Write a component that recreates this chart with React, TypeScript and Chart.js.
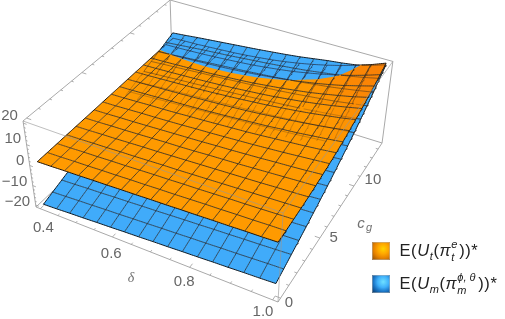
import React, { useEffect, useRef } from "react";
import { Chart, registerables } from "chart.js";

Chart.register(...registerables);

const deltaTicks = [0.4, 0.6, 0.8, 1.0];
const deltaMinor = [0.4, 0.45, 0.5, 0.55, 0.6, 0.65, 0.7, 0.75, 0.8, 0.85, 0.9, 0.95, 1.0];
const cgTicks = [0, 5, 10];
const cgMinor = [0, 1, 2, 3, 4, 5, 6, 7, 8, 9, 10, 11, 12, 13, 14];
const zTicks = [-20, -10, 0, 10, 20];
const zMinor = [-20, -18, -16, -14, -12, -10, -8, -6, -4, -2, 0, 2, 4, 6, 8, 10, 12, 14, 16, 18, 20];
const CG_MAX = 14.4;
const Z_MIN = -21;
const Z_MAX = 21;

// rows: c_g from 0 to max; columns: delta from 0.4 to 1.0
const blueZ = [
  [-20.3, -20.0, -19.6, -19.3, -18.9, -18.6, -18.2, -17.9, -17.5, -17.2, -16.8, -16.5, -16.1, -15.8, -15.4, -15.1, -14.7],
  [-18.7, -18.4, -18.0, -17.7, -17.3, -17.0, -16.6, -16.3, -15.9, -15.6, -15.2, -14.9, -14.5, -14.2, -13.8, -13.4, -13.1],
  [-17.1, -16.8, -16.4, -16.1, -15.7, -15.4, -15.0, -14.7, -14.3, -13.9, -13.6, -13.2, -12.9, -12.5, -12.2, -11.8, -11.4],
  [-15.5, -15.2, -14.8, -14.4, -14.1, -13.7, -13.4, -13.0, -12.7, -12.3, -12.0, -11.6, -11.2, -10.9, -10.5, -10.1, -9.8],
  [-13.9, -13.5, -13.2, -12.8, -12.5, -12.1, -11.8, -11.4, -11.1, -10.7, -10.4, -10.0, -9.6, -9.2, -8.9, -8.5, -8.1],
  [-12.3, -11.9, -11.6, -11.2, -10.9, -10.5, -10.2, -9.8, -9.5, -9.1, -8.7, -8.3, -7.9, -7.5, -7.1, -6.7, -6.3],
  [-10.7, -10.3, -10.0, -9.6, -9.3, -8.9, -8.5, -8.2, -7.8, -7.4, -7.0, -6.6, -6.2, -5.8, -5.4, -5.0, -4.5],
  [-9.0, -8.7, -8.3, -8.0, -7.6, -7.2, -6.9, -6.5, -6.1, -5.7, -5.3, -4.9, -4.5, -4.0, -3.6, -3.1, -2.6],
  [-7.4, -7.1, -6.7, -6.3, -5.9, -5.6, -5.2, -4.8, -4.4, -4.0, -3.6, -3.1, -2.7, -2.2, -1.7, -1.2, -0.6],
  [-5.8, -5.4, -5.1, -4.7, -4.3, -3.9, -3.5, -3.1, -2.7, -2.3, -1.8, -1.4, -0.9, -0.3, 0.2, 0.8, 1.5],
  [-4.2, -3.8, -3.4, -3.0, -2.6, -2.2, -1.8, -1.4, -0.9, -0.5, 0.0, 0.5, 1.0, 1.6, 2.3, 2.9, 3.7],
  [-2.6, -2.2, -1.7, -1.3, -0.9, -0.5, -0.1, 0.4, 0.8, 1.3, 1.8, 2.4, 3.0, 3.6, 4.4, 5.2, 6.0],
  [-1.0, -0.5, -0.1, 0.4, 0.8, 1.3, 1.7, 2.2, 2.7, 3.2, 3.8, 4.4, 5.0, 5.8, 6.6, 7.5, 8.5],
  [0.7, 1.2, 1.6, 2.1, 2.6, 3.0, 3.5, 4.0, 4.5, 5.1, 5.7, 6.4, 7.2, 8.0, 8.9, 10.0, 11.1],
  [2.3, 2.8, 3.4, 3.9, 4.4, 4.9, 5.4, 5.9, 6.5, 7.1, 7.8, 8.5, 9.4, 10.3, 11.4, 12.6, 13.9],
  [3.9, 4.5, 5.1, 5.7, 6.2, 6.7, 7.3, 7.9, 8.5, 9.2, 9.9, 10.7, 11.7, 12.7, 13.9, 15.3, 16.9],
  [5.6, 6.2, 6.9, 7.5, 8.1, 8.7, 9.3, 9.9, 10.6, 11.3, 12.1, 13.1, 14.1, 14.9, 15.9, 17.6, 19.9],
];

const orangeZ = [
  [1.2, 1.4, 1.7, 1.9, 2.2, 2.4, 2.7, 2.9, 3.2, 3.4, 3.7, 3.9, 4.2, 4.4, 4.7, 4.9, 5.2],
  [1.3, 1.5, 1.8, 2.0, 2.3, 2.5, 2.8, 3.0, 3.3, 3.5, 3.8, 4.1, 4.3, 4.6, 4.8, 5.1, 5.3],
  [1.4, 1.6, 1.9, 2.1, 2.4, 2.6, 2.9, 3.2, 3.4, 3.7, 3.9, 4.2, 4.5, 4.7, 5.0, 5.3, 5.6],
  [1.5, 1.7, 2.0, 2.2, 2.5, 2.7, 3.0, 3.3, 3.5, 3.8, 4.1, 4.4, 4.7, 5.0, 5.3, 5.6, 5.9],
  [1.6, 1.8, 2.1, 2.3, 2.6, 2.9, 3.1, 3.4, 3.7, 4.0, 4.3, 4.6, 4.9, 5.2, 5.6, 5.9, 6.3],
  [1.7, 1.9, 2.2, 2.4, 2.7, 3.0, 3.3, 3.5, 3.8, 4.2, 4.5, 4.8, 5.2, 5.6, 6.0, 6.4, 6.8],
  [1.8, 2.0, 2.3, 2.5, 2.8, 3.1, 3.4, 3.7, 4.0, 4.4, 4.7, 5.1, 5.5, 6.0, 6.4, 6.9, 7.5],
  [1.9, 2.1, 2.4, 2.7, 2.9, 3.2, 3.5, 3.9, 4.2, 4.6, 5.0, 5.4, 5.9, 6.4, 7.0, 7.6, 8.2],
  [2.0, 2.2, 2.5, 2.8, 3.0, 3.3, 3.7, 4.0, 4.4, 4.8, 5.2, 5.7, 6.3, 6.9, 7.5, 8.2, 9.0],
  [2.1, 2.3, 2.6, 2.9, 3.2, 3.5, 3.8, 4.2, 4.6, 5.1, 5.6, 6.1, 6.8, 7.4, 8.2, 9.0, 9.9],
  [2.2, 2.4, 2.7, 3.0, 3.3, 3.6, 4.0, 4.4, 4.8, 5.3, 5.9, 6.6, 7.3, 8.1, 9.0, 10.0, 11.1],
  [2.3, 2.5, 2.8, 3.1, 3.4, 3.7, 4.1, 4.6, 5.1, 5.7, 6.3, 7.1, 7.9, 8.8, 9.9, 11.0, 12.3],
  [2.4, 2.6, 2.9, 3.2, 3.5, 3.9, 4.3, 4.8, 5.4, 6.0, 6.7, 7.6, 8.5, 9.6, 10.8, 12.2, 13.7],
  [2.5, 2.7, 3.0, 3.3, 3.6, 4.0, 4.5, 5.0, 5.6, 6.4, 7.2, 8.2, 9.2, 10.5, 11.9, 13.4, 15.2],
  [2.6, 2.8, 3.1, 3.4, 3.8, 4.2, 4.7, 5.3, 6.0, 6.8, 7.7, 8.8, 10.0, 11.4, 13.0, 14.9, 16.9],
  [2.7, 2.9, 3.2, 3.5, 3.9, 4.4, 4.9, 5.5, 6.3, 7.2, 8.2, 9.5, 10.9, 12.5, 14.3, 16.4, 18.7],
  [2.8, 3.1, 3.3, 3.7, 4.1, 4.5, 5.1, 5.8, 6.6, 7.6, 8.8, 10.2, 11.8, 13.6, 15.7, 18.0, 20.7],
];

type P = { x: number; y: number };
const GAP: P = { x: NaN, y: NaN };
const N = blueZ.length - 1;

// camera: homogeneous projection of the unit box onto the picture
const A = [36, 207, 1];
const B = [213.1, 63.6, -0.104];
const C = [172.5, -112.8, 0.2075];
const D = [-14.55, -94.15, -0.0674];

function boxPoint(u: number, v: number, t: number): P {
  const h = [0, 1, 2].map((k) => A[k] + u * B[k] + v * C[k] + t * D[k]);
  return { x: h[0] / h[2], y: h[1] / h[2] };
}
const tOfZ = (z: number) => (z - Z_MIN) / (Z_MAX - Z_MIN);
const gridU = (i: number) => 0.02 + (0.96 * i) / N;
const uOfDelta = (d: number) => 0.02 + (0.96 * (d - 0.4)) / 0.6;
const vOfCg = (c: number) => 0.02 + (0.96 * c) / CG_MAX;

const lerp = (a: number, b: number, f: number) => a + (b - a) * f;

function surfacePoint(zs: number[][], fi: number, fj: number): P {
  const i = Math.min(Math.floor(fi), N - 1);
  const j = Math.min(Math.floor(fj), N - 1);
  const a = fi - i;
  const b = fj - j;
  const z = lerp(lerp(zs[j][i], zs[j][i + 1], a), lerp(zs[j + 1][i], zs[j + 1][i + 1], a), b);
  return boxPoint(gridU(fi), gridU(fj), tOfZ(z));
}
const diff = (i: number, j: number) => orangeZ[j][i] - blueZ[j][i];

function cellPolygon(zs: number[][], i: number, j: number, keep: (d: number) => boolean): P[] {
  const corners = [[i, j], [i + 1, j], [i + 1, j + 1], [i, j + 1]];
  const out: P[] = [];
  for (let k = 0; k < 4; k++) {
    const [a, b] = corners[k];
    const [c, e] = corners[(k + 1) % 4];
    const d0 = diff(a, b);
    const d1 = diff(c, e);
    if (keep(d0)) out.push(surfacePoint(zs, a, b));
    if (keep(d0) !== keep(d1)) {
      const f = d0 / (d0 - d1);
      out.push(surfacePoint(zs, lerp(a, c, f), lerp(b, e, f)));
    }
  }
  if (out.length) out.push(out[0]);
  return out;
}

// polyline of a mesh line, kept only where lo < (orange - blue) < hi
function meshLine(zs: number[][], horizontal: boolean, idx: number, lo: number, hi: number): P[] {
  const pts: P[] = [];
  const steps = 8;
  let open = false;
  for (let s = 0; s <= N * steps; s++) {
    const f = s / steps;
    const fi = horizontal ? f : idx;
    const fj = horizontal ? idx : f;
    const i = Math.min(Math.floor(fi), N - 1);
    const j = Math.min(Math.floor(fj), N - 1);
    const a = fi - i;
    const b = fj - j;
    const d = lerp(lerp(diff(i, j), diff(i + 1, j), a), lerp(diff(i, j + 1), diff(i + 1, j + 1), a), b);
    if (d > lo && d < hi) {
      pts.push(surfacePoint(zs, fi, fj));
      open = true;
    } else if (open) {
      pts.push(GAP);
      open = false;
    }
  }
  return pts;
}

function buildDatasets() {
  const ds: any[] = [];
  const stroke = (data: P[], color: string, width: number) =>
    ds.push({ data, borderColor: color, borderWidth: width, pointRadius: 0, fill: false, tension: 0 });
  const poly = (data: P[], color: string) =>
    ds.push({ data, borderColor: "transparent", backgroundColor: color, borderWidth: 0, pointRadius: 0, fill: "shape", tension: 0 });
  const edge = (a: number[], b: number[]) => [boxPoint(a[0], a[1], a[2]), boxPoint(b[0], b[1], b[2])];

  const boxColor = "#a9a9a9";
  // rear box edges
  stroke(edge([0, 1, 0], [1, 1, 0]), boxColor, 1);
  stroke(edge([0, 0, 0], [0, 1, 0]), boxColor, 1);
  stroke(edge([1, 0, 0], [1, 1, 0]), boxColor, 1);
  stroke(edge([0, 0, 0], [1, 0, 0]), boxColor, 1);
  stroke(edge([0, 1, 0], [0, 1, 1]), boxColor, 1);
  stroke(edge([1, 1, 0], [1, 1, 1]), boxColor, 1);
  stroke(edge([0, 0, 0], [0, 0, 1]), boxColor, 1);
  stroke(edge([0, 0, 1], [0, 1, 1]), boxColor, 1);
  stroke(edge([0, 1, 1], [1, 1, 1]), boxColor, 1);

  // ticks
  const ticks: P[] = [];
  const addTick = (p: number[], q: number[]) => {
    ticks.push(boxPoint(p[0], p[1], p[2]), boxPoint(q[0], q[1], q[2]), GAP);
  };
  zMinor.forEach((z) => {
    const l = z % 10 === 0 ? 0.014 : 0.007;
    addTick([0, 0, tOfZ(z)], [l, 0, tOfZ(z)]);
  });
  deltaMinor.forEach((d) => {
    const l = Math.round(d * 100) % 20 === 0 ? 0.02 : 0.01;
    addTick([uOfDelta(d), 0, 0], [uOfDelta(d), l, 0]);
  });
  cgMinor.forEach((c) => {
    const l = c % 5 === 0 ? 0.02 : 0.01;
    addTick([1, vOfCg(c), 0], [1 - l, vOfCg(c), 0]);
    addTick([0, vOfCg(c), 1], [l, vOfCg(c), 1]);
  });
  stroke(ticks, "#9a9a9a", 0.8);

  // blue surface
  for (let j = 0; j < N; j++) {
    for (let i = 0; i < N; i++) {
      poly(cellPolygon(blueZ, i, j, () => true), "#40abfa");
    }
  }
  const lineBlue = "rgba(28,42,56,0.88)";
  for (let k = 1; k < N; k++) {
    stroke(meshLine(blueZ, true, k, -1e9, 1e9), lineBlue, 0.9);
    stroke(meshLine(blueZ, false, k, -1e9, 1e9), lineBlue, 0.9);
  }
  for (const k of [0, N]) {
    stroke(meshLine(blueZ, true, k, -1e9, 1e9), "#0c1822", 1);
    stroke(meshLine(blueZ, false, k, -1e9, 1e9), "#0c1822", 1);
  }

  // orange surface where it lies above the blue one
  for (let j = 0; j < N; j++) {
    for (let i = 0; i < N; i++) {
      const poly2 = cellPolygon(orangeZ, i, j, (d) => d > 0);
      if (!poly2.length) continue;
      const du = (orangeZ[j][i + 1] - orangeZ[j][i] + orangeZ[j + 1][i + 1] - orangeZ[j + 1][i]) / 2;
      const dv = (orangeZ[j + 1][i] - orangeZ[j][i] + orangeZ[j + 1][i + 1] - orangeZ[j][i + 1]) / 2;
      const s = Math.min(1, Math.max(0, (du + dv - 1.6) / 2.4));
      poly(poly2, `rgb(${Math.round(255 - 6 * s)},${Math.round(154 - 24 * s)},${Math.round(s * 6)})`);
    }
  }
  const lineOrange = "rgba(58,42,24,0.9)";
  for (let k = 0; k <= N; k++) {
    const w = k === 0 || k === N ? 1 : 0.9;
    const c = k === 0 || k === N ? "#201408" : lineOrange;
    stroke(meshLine(orangeZ, true, k, 0, 1e9), c, w);
    stroke(meshLine(orangeZ, false, k, 0, 1e9), c, w);
    // mesh seen through the upper sheet
    stroke(meshLine(orangeZ, true, k, -1e9, 0), "rgba(30,30,50,0.7)", 0.9);
    stroke(meshLine(orangeZ, false, k, -1e9, 0), "rgba(30,30,50,0.7)", 0.9);
    stroke(meshLine(blueZ, true, k, 0, 3.5), "rgba(70,50,30,0.62)", 0.9);
    stroke(meshLine(blueZ, false, k, 0, 3.5), "rgba(70,50,30,0.62)", 0.9);
    stroke(meshLine(blueZ, true, k, 3.5, 7), "rgba(70,50,30,0.32)", 0.9);
    stroke(meshLine(blueZ, false, k, 3.5, 7), "rgba(70,50,30,0.32)", 0.9);
  }

  // front box edges, seen over the surfaces
  const front = "rgba(150,150,150,0.62)";
  stroke(edge([0, 0, 1], [1, 0, 1]), front, 1);
  stroke(edge([1, 0, 1], [1, 1, 1]), front, 1);
  stroke(edge([1, 0, 0], [1, 0, 1]), front, 1);
  // Chart.js paints the first dataset last
  return ds.reverse();
}

const labelPlugin = {
  id: "boxLabels",
  afterDraw(chart: any) {
    const { ctx, scales } = chart;
    const put = (p: P, text: string, font: string, align: CanvasTextAlign, color = "#666666") => {
      ctx.font = font;
      ctx.fillStyle = color;
      ctx.textAlign = align;
      ctx.textBaseline = "middle";
      ctx.fillText(text, scales.x.getPixelForValue(p.x), scales.y.getPixelForValue(p.y));
    };
    const font = "15px 'Liberation Sans'";
    zTicks.forEach((z) => {
      const p = boxPoint(0, 0, tOfZ(z));
      put({ x: p.x - 5.5, y: p.y - 5 - z * 0.1 }, String(z).replace("-", "\u2212"), font, "right");
    });
    deltaTicks.forEach((d) => {
      const p = boxPoint(uOfDelta(d), 0, 0);
      const f = (d - 0.4) / 0.6;
      put({ x: p.x + 3 - 12.6 * f, y: p.y + 19 - 7 * f }, d.toFixed(1), font, "center");
    });
    cgTicks.forEach((c) => {
      const p = boxPoint(1, vOfCg(c), 0);
      put({ x: p.x + 8.4 + 1.06 * c, y: p.y + 5 - 1.1 * c }, String(c), font, "center");
    });
    put({ x: 131, y: 278 }, "\u03b4", "italic 14px 'Liberation Serif'", "center", "#707070");
    put({ x: 361, y: 224 }, "c", "italic 15px 'Liberation Sans'", "center", "#707070");
    put({ x: 369, y: 228 }, "g", "italic 11px 'Liberation Sans'", "center", "#707070");
  },
};

const swatch = (top: number, gradient: string): React.CSSProperties => ({
  position: "absolute",
  left: 372,
  top,
  width: 18,
  height: 18,
  background: gradient,
  boxShadow: "inset 0 0 0 1px rgba(180,180,180,0.5)",
});

const rowStyle = (top: number): React.CSSProperties => ({
  position: "absolute",
  left: 399.5,
  top,
  height: 20,
  lineHeight: "20px",
  whiteSpace: "nowrap",
  font: "16.5px 'Liberation Sans'",
  letterSpacing: "0.6px",
  color: "#222",
});

const Idx = ({ sup, sub, width }: { sup: string; sub: string; width: number }) => (
  <span style={{ position: "relative", display: "inline-block", width, height: 14 }}>
    <i style={{ position: "absolute", left: 0, top: -4, fontSize: 11, lineHeight: "12px", whiteSpace: "nowrap", letterSpacing: 0 }}>{sup}</i>
    <i style={{ position: "absolute", left: 0, top: 9, fontSize: 11, lineHeight: "12px", letterSpacing: 0 }}>{sub}</i>
  </span>
);

export default function App() {
  const ref = useRef<HTMLCanvasElement>(null);
  useEffect(() => {
    const chart = new Chart(ref.current as HTMLCanvasElement, {
      type: "line",
      data: { datasets: buildDatasets() },
      options: {
        animation: false,
        responsive: false,
        parsing: { xAxisKey: "x", yAxisKey: "y" },
        layout: { padding: 0 },
        plugins: { legend: { display: false }, tooltip: { enabled: false } },
        elements: { line: { capBezierPoints: false } },
        scales: {
          x: { type: "linear", min: 0, max: 505, display: false },
          y: { type: "linear", min: 0, max: 319, reverse: true, display: false },
        },
      },
      plugins: [labelPlugin],
    } as any);
    return () => chart.destroy();
  }, []);
  return (
    <div style={{ position: "absolute", left: 0, top: 0, width: 505, height: 319, background: "#fff" }}>
      <canvas ref={ref} width={505} height={319} style={{ display: "block" }} />
      <div style={swatch(242, "radial-gradient(circle at 62% 38%, #ffd400 0%, #ffa800 32%, #e88400 58%, #8a4a08 100%)")} />
      <div style={swatch(275, "radial-gradient(circle at 62% 38%, #6fe0ff 0%, #3fb0fa 36%, #1a74c4 62%, #07305c 100%)")} />
      <div style={rowStyle(241)}>
        E(<i>U</i>
        <i style={{ fontSize: 11, position: "relative", top: 4 }}>t</i>(<i>π</i>
        <Idx sup="e" sub="t" width={8} />
        ))*
      </div>
      <div style={rowStyle(274)}>
        E(<i>U</i>
        <i style={{ fontSize: 11, position: "relative", top: 4 }}>m</i>(<i>π</i>
        <Idx sup="ϕ, θ" sub="m" width={21} />
        ))*
      </div>
    </div>
  );
}
